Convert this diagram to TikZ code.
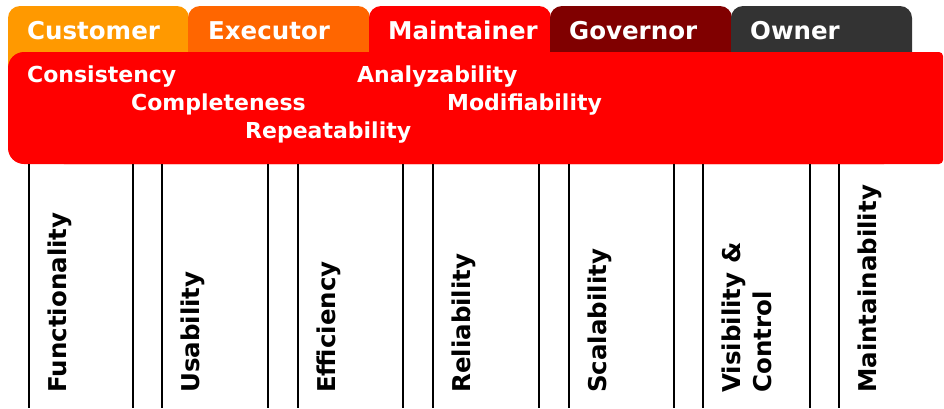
\documentclass[tikz,border=0pt]{standalone}
\usepackage{fontspec}
\setmainfont{DejaVu Sans}
\definecolor{custorange}{HTML}{FF9900}
\definecolor{execorange}{HTML}{FF6600}
\definecolor{maintred}{HTML}{FF0000}
\definecolor{govmaroon}{HTML}{800000}
\definecolor{ownergrey}{HTML}{333333}
\tikzset{
  tab/.style={rounded corners=12pt},
  tabtext/.style={text=white,inner sep=0pt,anchor=base west,font=\fontsize{24.5}{29}\selectfont\bfseries},
  goal/.style={text=white,inner sep=0pt,anchor=base west,font=\fontsize{22}{28}\selectfont\bfseries},
  quality/.style={text=black,inner sep=0pt,anchor=base west,rotate=90,align=left,font=\fontsize{24.5}{31.5}\selectfont\bfseries}
}

\begin{document}
\begin{tikzpicture}[x=1pt, y=-1pt]
            \useasboundingbox (0,0) rectangle (944,408);
            % role tabs
            \fill[tab,custorange] (8,6) rectangle (189,90);
            \fill[tab,execorange] (188,6) rectangle (370,90);
            \fill[tab,maintred]   (369,6) rectangle (551,90);
            \fill[tab,govmaroon]  (550,6) rectangle (732,90);
            \fill[tab,ownergrey]  (731,6) rectangle (912,90);
            \node[tabtext] (T_1) at (27,39.5)  {Customer};
            \node[tabtext] (T_2) at (208,39.5) {Executor};
            \node[tabtext] (T_3) at (388,39.5) {Maintainer};
            \node[tabtext] (T_4) at (569,39.5) {Governor};
            \node[tabtext] (T_5) at (750,39.5) {Owner};

            % panel of the selected tab
            \fill[maintred,rounded corners=16pt] (8,52) rectangle (900,164);
            \fill[maintred,rounded corners=4pt] (60,52) rectangle (943,164);
            \node[goal] (A_1) at (27,82.7)  {Consistency};
            \node[goal] (A_2) at (131,110.5) {Completeness};
            \node[goal] (A_3) at (245,138.3) {Repeatability};
            \node[goal] (A_4) at (357,82.7) {Analyzability};
            \node[goal] (A_5) at (447,110.5) {Modifiability};

            % quality columns
            \foreach \x in {29,133,162,268,298,403,433,539,569,674,703,810,839}
                \draw[line width=1.7pt] (\x,164) -- (\x,408);
            \node[quality] (Q_1) at (66.5,393)  {Functionality};
            \node[quality] (Q_2) at (199.5,393) {Usability};
            \node[quality] (Q_3) at (335.5,393) {Efficiency};
            \node[quality] (Q_4) at (470.5,393) {Reliability};
            \node[quality] (Q_5) at (606.5,393) {Scalability};
            \node[quality] (Q_6) at (771.5,393) {Visibility \&\\Control};
            \node[quality] (Q_7) at (876.5,393) {Maintainability};
        \end{tikzpicture}
\end{document}
